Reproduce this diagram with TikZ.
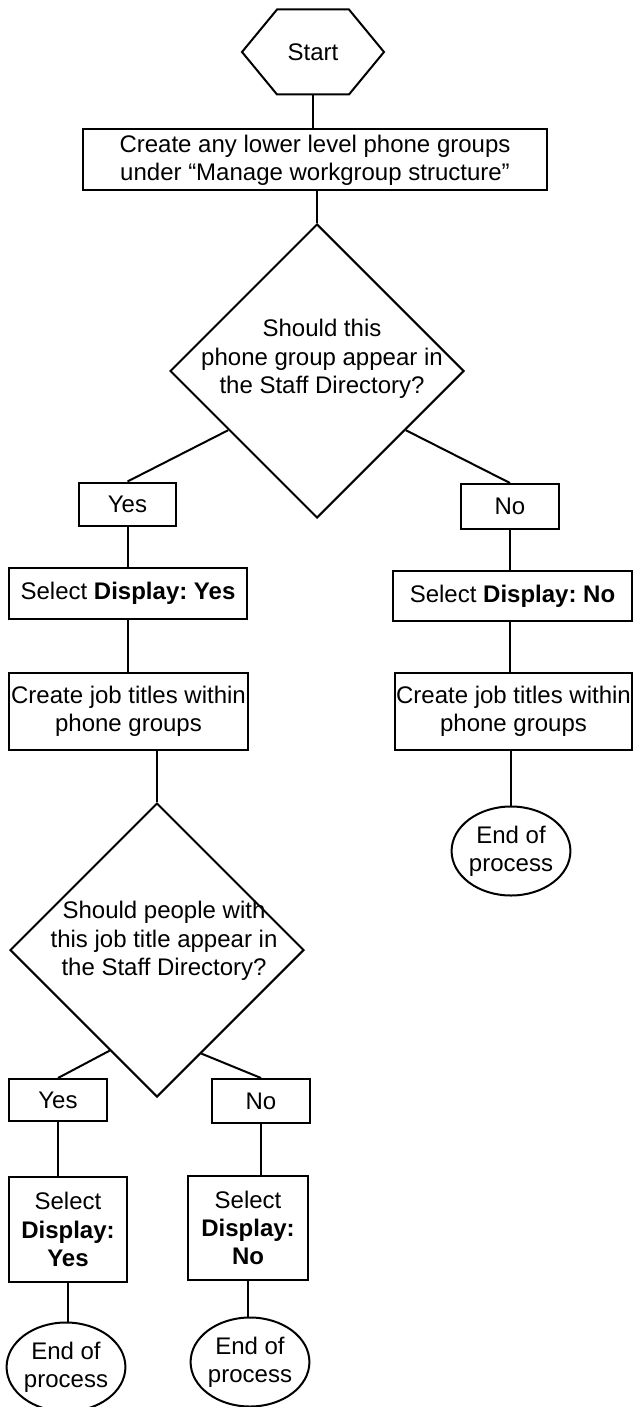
\documentclass[tikz,border=0pt]{standalone}
\usepackage{fontspec}
\setmainfont{Liberation Sans}
\frenchspacing
\usetikzlibrary{shapes.geometric, shapes.symbols, calc}

\begin{document}
\begin{tikzpicture}[
    x=0.5pt, y=-0.5pt,
    line width=1pt,
    every node/.style = {font=\fontsize{12}{14.2}\selectfont},
    startbox/.style = {
        signal, signal to=east and west, signal pointer angle=101,
        draw=black, fill=white, inner sep=0pt,
        minimum width=71pt, minimum height=42.5pt
    },
    box/.style = {
        rectangle, draw=black, fill=white,
        align=center, inner sep=0pt
    },
    decision/.style = {
        diamond, aspect=1, draw=black,
        minimum width=147pt, minimum height=147pt, inner sep=0pt
    },
    question/.style = {align=center, inner sep=0pt},
    terminal/.style = {
        ellipse, draw=black, fill=white,
        align=center, inner sep=0pt,
        minimum width=57pt, minimum height=44.5pt
    },
    link/.style = {draw=black, line width=1pt}
]
\useasboundingbox (0,0) rectangle (633,1407);

% Inicio
\node[startbox] (start) at (313,52) {Start};

% Grupos de teléfono
\node[box, minimum width=232pt, minimum height=30.5pt] (groups) at (315,160)
    {Create any lower level phone groups\\
     under “Manage workgroup structure”};

% Pregunta 1
\node[decision] (q1) at (317,371) {};
\node[question] (q1txt) at (322,359)
    {Should this\\ phone group appear in\\ the Staff Directory?};

\node[box, minimum width=48.5pt, minimum height=21.5pt] (yes1) at (127.5,504) {Yes};
\node[box, minimum width=49pt, minimum height=22.5pt] (no1) at (510,506.5) {No};

\node[box, minimum width=119pt, minimum height=25.5pt] (showyes1) at (128,593.5)
    {Select \textbf{Display: Yes}};
\node[box, minimum width=119.5pt, minimum height=25pt] (showno1) at (512.5,596)
    {Select \textbf{Display: No}};

\node[box, minimum width=119.5pt, minimum height=38.5pt] (titlesL) at (128.5,711.5)
    {Create job titles within\\ phone groups};
\node[box, minimum width=118.5pt, minimum height=38.5pt] (titlesR) at (513.5,711.5)
    {Create job titles within\\ phone groups};

\node[terminal] (endR) at (511,851) {End of\\ process};

% Pregunta 2
\node[decision] (q2) at (157,950) {};
\node[question] (q2txt) at (164,941)
    {Should people with\\ this job title appear in\\ the Staff Directory?};

\node[box, minimum width=49pt, minimum height=21pt] (yes2) at (58,1100) {Yes};
\node[box, minimum width=49pt, minimum height=22pt] (no2) at (261,1101) {No};

\node[box, minimum width=59pt, minimum height=52.5pt] (showyes2) at (68,1229.5)
    {Select\\ \textbf{Display:}\\ \textbf{Yes}};
\node[box, minimum width=60pt, minimum height=52pt] (showno2) at (248,1228)
    {Select\\ \textbf{Display:}\\ \textbf{No}};

\node[terminal] (endL) at (66,1367) {End of\\ process};
\node[terminal] (endM) at (250,1362) {End of\\ process};

% Conectores
\draw[link] (start.south) -- (start.south |- groups.north);
\draw[link] (groups.south -| q1.north) -- (q1.north);
\draw[link] ($(q1.west)!0.4!(q1.south)$) -- (yes1.north);
\draw[link] ($(q1.east)!0.4!(q1.south)$) -- (no1.north);
\draw[link] (yes1.south) -- (yes1.south |- showyes1.north);
\draw[link] (no1.south) -- (no1.south |- showno1.north);
\draw[link] (showyes1.south) -- (showyes1.south |- titlesL.north);
\draw[link] (no1.south |- showno1.south) -- (no1.south |- titlesR.north);
\draw[link] (titlesL.south -| q2.north) -- (q2.north);
\draw[link] (titlesR.south -| endR.north) -- (endR.north);
\draw[link] ($(q2.west)!0.68!(q2.south)$) -- (yes2.north);
\draw[link] ($(q2.east)!0.7!(q2.south)$) -- (no2.north);
\draw[link] (yes2.south) -- (yes2.south |- showyes2.north);
\draw[link] (no2.south) -- (no2.south |- showno2.north);
\draw[link] (showyes2.south) -- (showyes2.south |- endL.north);
\draw[link] (showno2.south) -- (showno2.south |- endM.north);

\end{tikzpicture}
\end{document}
